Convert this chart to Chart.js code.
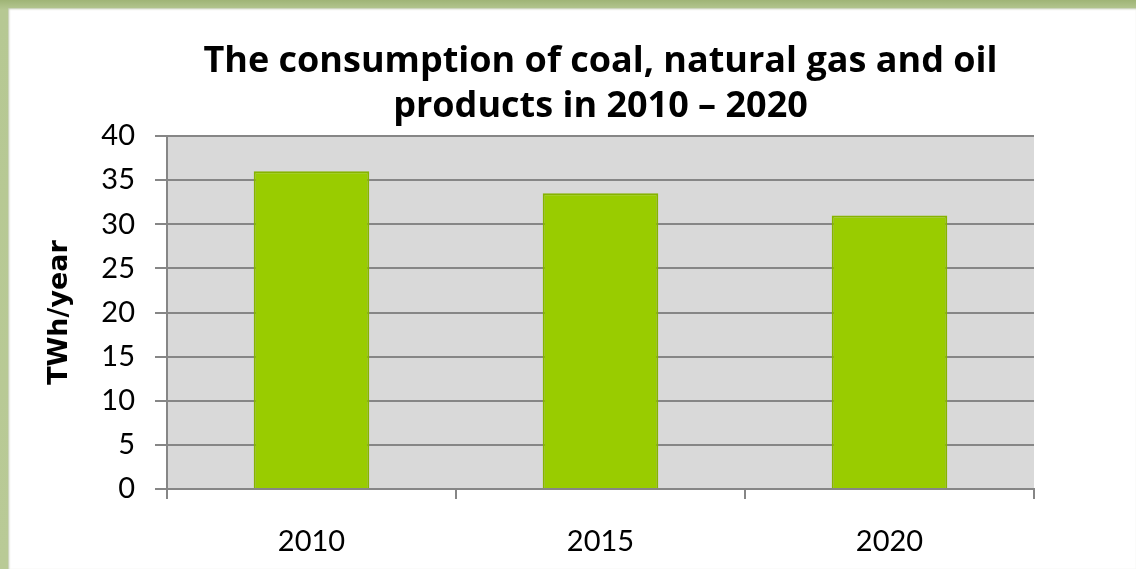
<!DOCTYPE html>
<html>
<head>
<meta charset="utf-8">
<script src="https://cdn.jsdelivr.net/npm/chart.js@4/dist/chart.umd.min.js"></script>
<style>
  html, body { margin: 0; padding: 0; }
  body { width: 1136px; height: 569px; position: relative; overflow: hidden;
         background: linear-gradient(180deg, #9fb476 0px, #b6c893 10px, #b9ca96 100%); }
  #frame { position: absolute; left: 8px; top: 8px; right: 0; bottom: 0; background: #fff;
           box-shadow: inset 1px 1px 2px rgba(120,140,80,0.5); }
  #c { position: absolute; left: 0; top: 0; }
</style>
</head>
<body>
<div id="frame"></div>
<canvas id="c" width="1136" height="569"></canvas>
<script>
const years = ['2010', '2015', '2020'];
const consumption = [36.0, 33.5, 31.0];
const titleLines = ['The consumption of coal, natural gas and oil', 'products in 2010 \u2013 2020'];
const yAxisTitle = 'TWh/year';

// grey plot background
const plotBg = {
  id: 'plotBg',
  beforeDraw(chart) {
    const a = chart.chartArea;
    const c = chart.ctx;
    c.save();
    c.fillStyle = '#d9d9d9';
    c.fillRect(a.left, a.top, a.right - a.left, a.bottom - a.top);
    c.restore();
  }
};

const ctx = document.getElementById('c').getContext('2d');
new Chart(ctx, {
  type: 'bar',
  data: {
    labels: years,
    datasets: [{
      data: consumption,
      backgroundColor: '#99cc00',
      borderColor: '#86b300',
      borderWidth: 2,
      barPercentage: 0.4,
      categoryPercentage: 1
    }]
  },
  options: {
    responsive: false,
    animation: false,
    layout: { padding: { top: 39.5, left: 30, right: 102, bottom: 0 } },
    plugins: {
      legend: { display: false },
      tooltip: { enabled: false },
      title: {
        display: true,
        fullSize: false,
        text: titleLines,
        color: '#000',
        font: { family: 'Open Sans', size: 36, weight: 'bold', lineHeight: 1.25 },
        padding: { top: 0, bottom: 6.5 }
      }
    },
    scales: {
      x: {
        afterFit(scale) { scale.height = 80; },
        grid: { offset: true, drawOnChartArea: false, drawTicks: true, tickLength: 10, color: '#868686', lineWidth: 2 },
        border: { color: '#868686', width: 2 },
        ticks: { color: '#000', padding: 25, font: { family: 'Lato', size: 29 } }
      },
      y: {
        min: 0,
        max: 40,
        afterFit(scale) { scale.width = 137; },
        grid: { color: '#868686', lineWidth: 2, tickLength: 12 },
        border: { color: '#868686', width: 2 },
        ticks: { stepSize: 5, color: '#000', padding: 20, font: { family: 'Lato', size: 29 } },
        title: {
          display: true,
          text: yAxisTitle,
          color: '#000',
          font: { family: 'DejaVu Sans', size: 27, weight: 'bold' },
          padding: { top: 14, bottom: 0 }
        }
      }
    }
  },
  plugins: [plotBg]
});
</script>
</body>
</html>
